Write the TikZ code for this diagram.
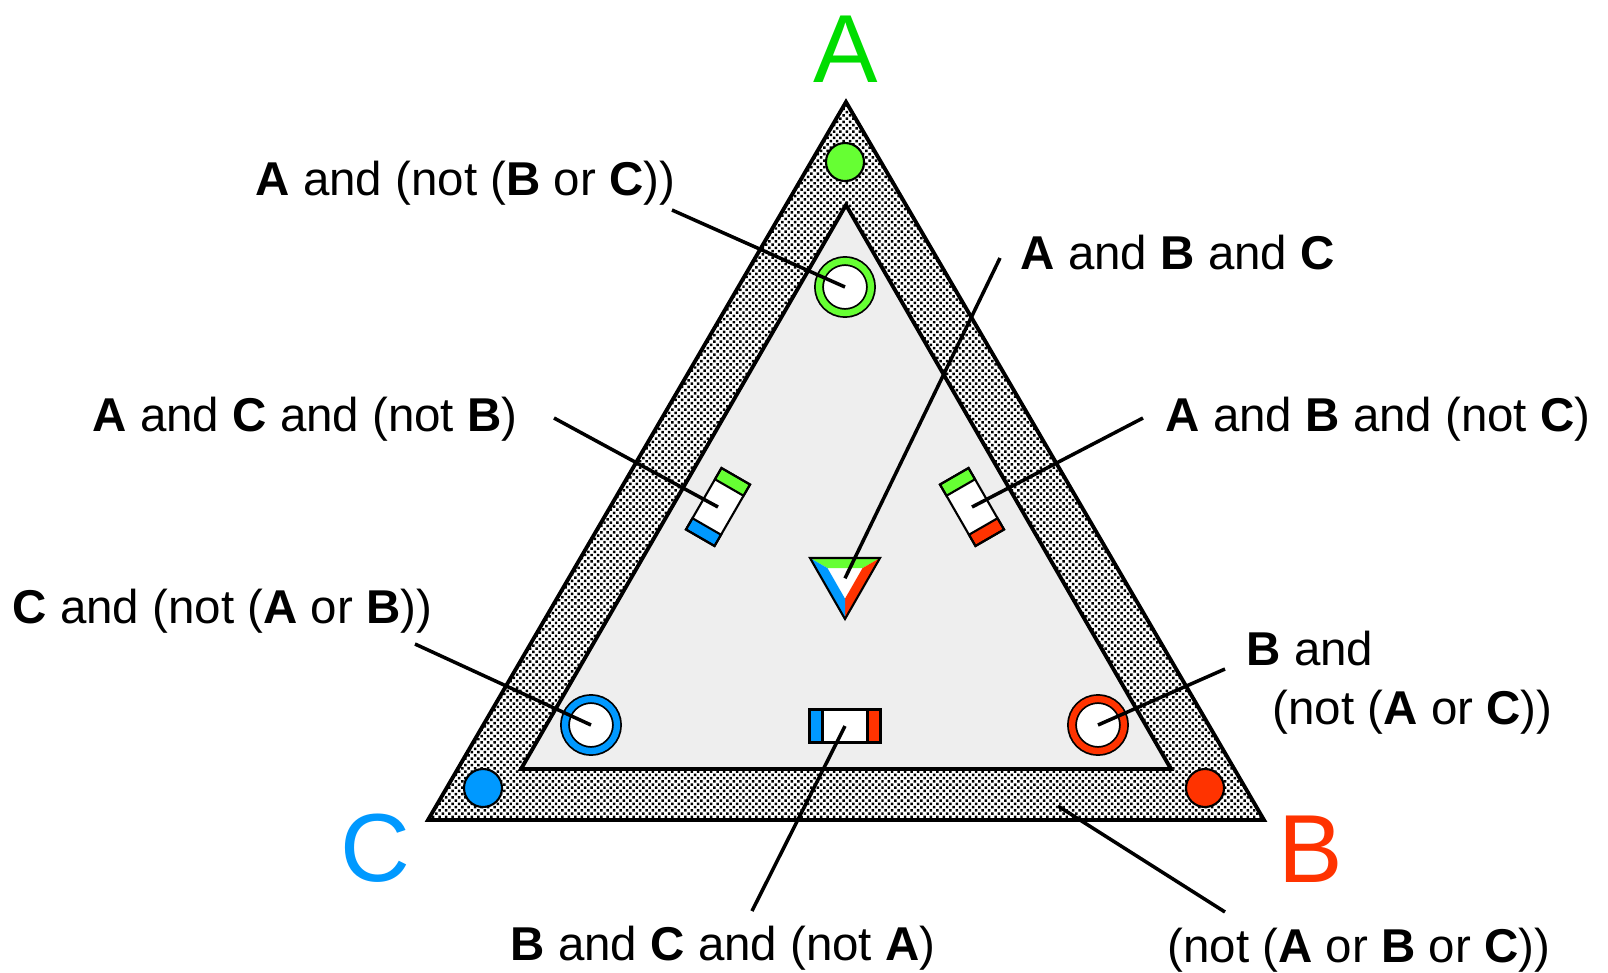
\documentclass[tikz,border=0pt]{standalone}
\usepackage{fontspec}
\setmainfont{Liberation Sans}
\usetikzlibrary{calc,patterns.meta}
\definecolor{agreen}{RGB}{102,255,51}
\definecolor{letgreen}{RGB}{0,221,0}
\definecolor{cblue}{RGB}{0,153,255}
\definecolor{bred}{RGB}{255,51,0}
\definecolor{innergray}{RGB}{238,238,238}

\begin{document}
\begin{tikzpicture}[x=0.01cm, y=-0.01cm,
    tag/.style={anchor=base west, inner sep=0pt, font=\fontsize{13.5}{16.5}\selectfont},
    corner/.style={anchor=base, inner sep=0pt, font=\fontsize{27.5}{28}\selectfont},
    lead/.style={line width=1pt},
    hollow/.style={circle, minimum size=0.52cm, inner sep=0pt, fill=white, draw=black,
                   line width=0.5pt, double=#1, double distance=1.8pt},
    filldot/.style={circle, minimum size=0.38cm, inner sep=0pt, fill=#1, draw=black, line width=0.6pt}]
    \fill[white] (0,0) rectangle (1608,972);
    \useasboundingbox (0,0) rectangle (1608,972);

    % the two triangles
    \coordinate (oA) at (846,102);
    \coordinate (oB) at (1264,820);
    \coordinate (oC) at (428,820);
    \coordinate (iA) at (846,205);
    \coordinate (iB) at (1171,769);
    \coordinate (iC) at (521,769);
    \fill[pattern={Dots[distance=1.3pt, radius=0.5pt, angle=45]}] (oA) -- (oB) -- (oC) -- cycle;
    \draw[line width=1.1pt] (oA) -- (oB) -- (oC) -- cycle;
    \draw[line width=1.1pt, fill=innergray] (iA) -- (iB) -- (iC) -- cycle;

    % corner letters
    \node[corner, text=letgreen] (capA) at (846,82) {A};
    \node[corner, text=bred] (capB) at (1311,882) {B};
    \node[corner, text=cblue] (capC) at (375,881) {C};

    % one set only
    \node[filldot=agreen] (dotA) at (845,162) {};
    \node[filldot=bred] (dotB) at (1205,788) {};
    \node[filldot=cblue] (dotC) at (483,788) {};
    \node[hollow=agreen] (ringA) at (845,287) {};
    \node[hollow=bred] (ringB) at (1098,725) {};
    \node[hollow=cblue] (ringC) at (591,725) {};

    % two sets
    \foreach \name/\px/\py/\ang/\ca/\cb in {boxAC/718/507/60/cblue/agreen,
                                            boxAB/972/507/-60/agreen/bred,
                                            boxBC/845/726/0/cblue/bred} {
        \begin{scope}[shift={(\px,\py)}, rotate=\ang]
            \fill[white] (-35.5,-16.5) rectangle (35.5,16.5);
            \draw[line width=0.6pt, fill=\ca] (-35.5,-16.5) rectangle (-22.5,16.5);
            \draw[line width=0.6pt, fill=\cb] (22.5,-16.5) rectangle (35.5,16.5);
            \draw[line width=0.6pt] (-35.5,-16.5) rectangle (35.5,16.5);
            \coordinate (\name) at (0,0);
        \end{scope}
    }

    % all three sets
    \coordinate (tL) at (810,558);
    \coordinate (tR) at (880,558);
    \coordinate (tD) at (845,619);
    \coordinate (triABC) at (845,578.3);
    \fill[white] (tL) -- (tR) -- (tD) -- cycle;
    \fill[agreen] (tL) -- (tR) -- ($(triABC)!.5!(tR)$) -- ($(triABC)!.5!(tL)$) -- cycle;
    \fill[bred] (tR) -- (tD) -- ($(triABC)!.5!(tD)$) -- ($(triABC)!.5!(tR)$) -- cycle;
    \fill[cblue] (tD) -- (tL) -- ($(triABC)!.5!(tL)$) -- ($(triABC)!.5!(tD)$) -- cycle;
    \draw[line width=0.6pt] (tL) -- (tR) -- (tD) -- cycle;

    % labels
    \node[tag] (lAnotBC) at (255,195) {\textbf{A} and (not (\textbf{B} or \textbf{C}))};
    \node[tag] (lABC) at (1020,269) {\textbf{A} and \textbf{B} and \textbf{C}};
    \node[tag] (lACnotB) at (92,431) {\textbf{A} and \textbf{C} and (not \textbf{B})};
    \node[tag] (lABnotC) at (1165,431) {\textbf{A} and \textbf{B} and (not \textbf{C})};
    \node[tag] (lCnotAB) at (12,623) {\textbf{C} and (not (\textbf{A} or \textbf{B}))};
    \node[tag, align=left] (lBnotAC) at (1246,724) {\textbf{B} and\\\hspace*{0.26cm}(not (\textbf{A} or \textbf{C}))};
    \node[tag] (lBCnotA) at (510,960) {\textbf{B} and \textbf{C} and (not \textbf{A})};
    \node[tag] (lnone) at (1167,962) {(not (\textbf{A} or \textbf{B} or \textbf{C}))};

    % leaders
    \coordinate (pAnotBC) at (672,210);
    \coordinate (pABC) at (1000,258);
    \coordinate (pACnotB) at (554,418);
    \coordinate (pABnotC) at (1143,418);
    \coordinate (pCnotAB) at (415,644);
    \coordinate (pBnotAC) at (1225,669);
    \coordinate (pBCnotA) at (752,911);
    \coordinate (pnone) at (1225,912);
    \coordinate (bandpt) at (1058,806);
    \draw[lead] (pAnotBC) -- (ringA.center);
    \draw[lead] (pABC) -- (triABC);
    \draw[lead] (pACnotB) -- (boxAC);
    \draw[lead] (pABnotC) -- (boxAB);
    \draw[lead] (pCnotAB) -- (ringC.center);
    \draw[lead] (pBnotAC) -- (ringB.center);
    \draw[lead] (pBCnotA) -- (boxBC);
    \draw[lead] (pnone) -- (bandpt);
\end{tikzpicture}
\end{document}
